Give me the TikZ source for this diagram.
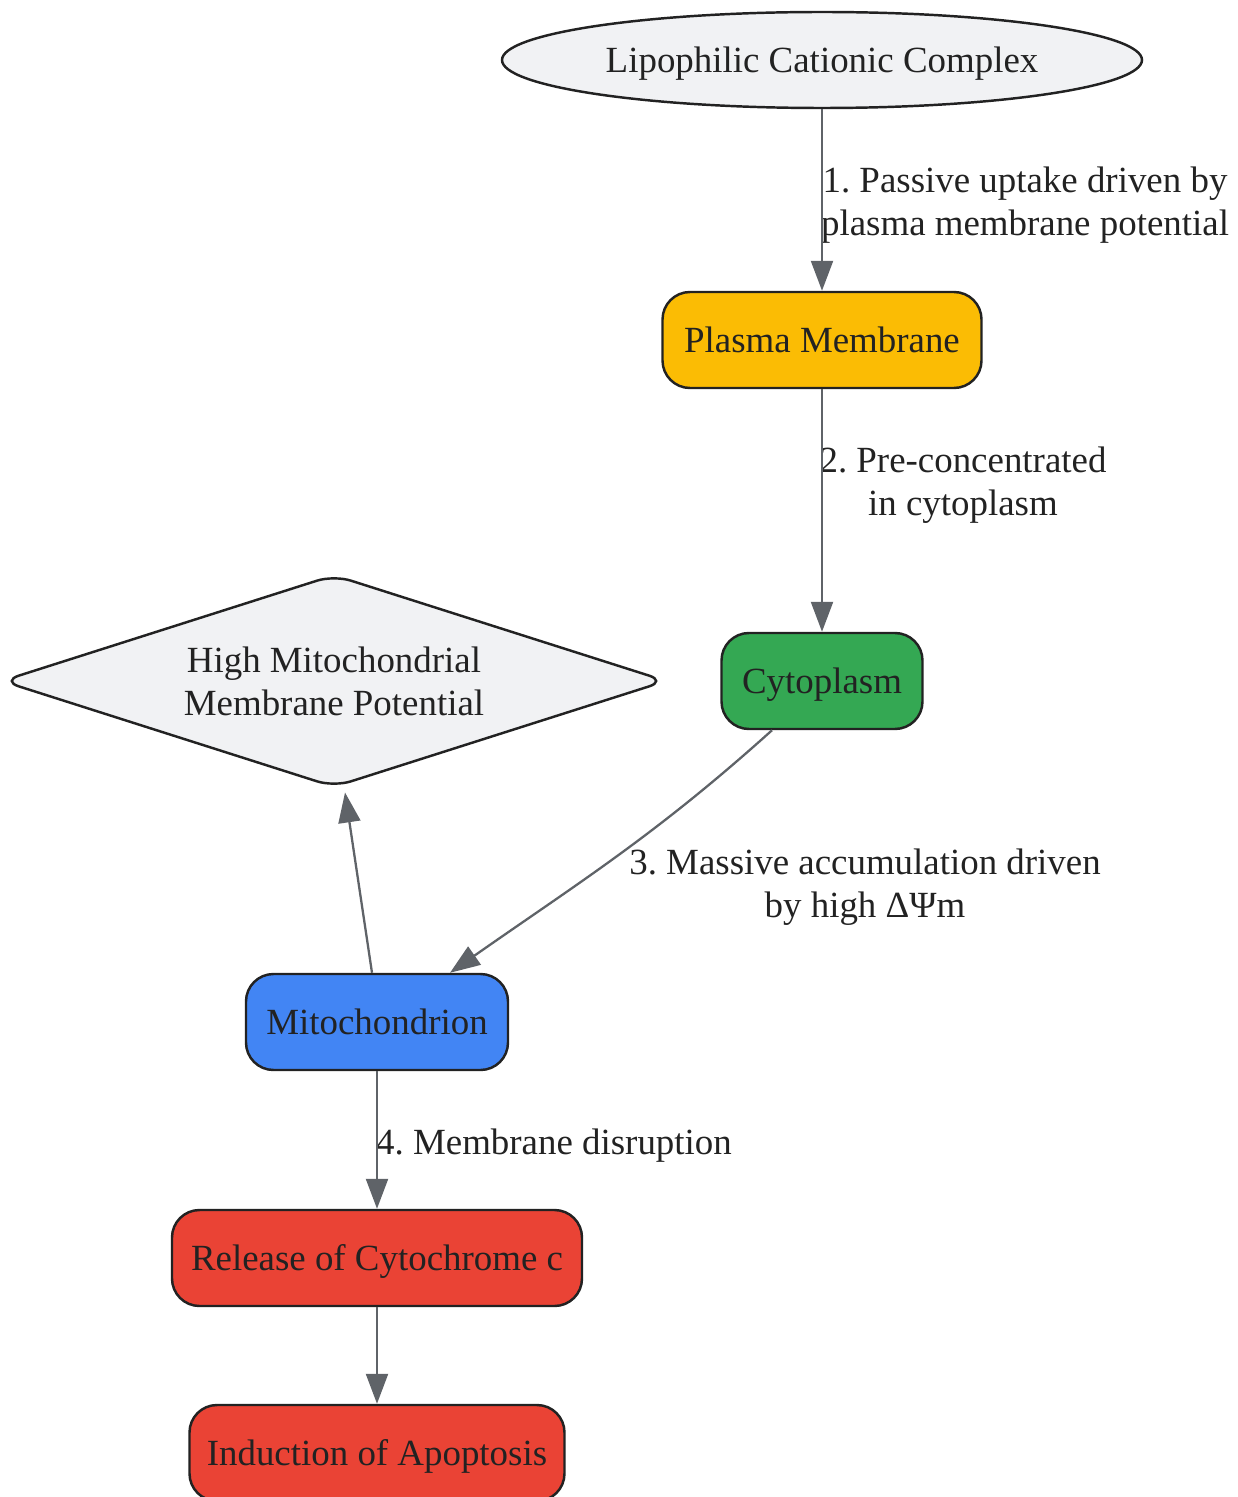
\documentclass[tikz,border=0pt]{standalone}
\usepackage{fontspec}
\setmainfont{Liberation Serif}
\usepackage{xcolor}
\usetikzlibrary{arrows.meta,positioning,shapes.geometric}
\frenchspacing
\definecolor{inkdark}{HTML}{222222}
\definecolor{edgegray}{HTML}{5F6368}
\definecolor{palegray}{HTML}{F1F2F4}
\definecolor{pmyellow}{HTML}{FBBC04}
\definecolor{cytgreen}{HTML}{34A853}
\definecolor{mitblue}{HTML}{4285F4}
\definecolor{apred}{HTML}{EA4335}
\tikzset{%
	process/.style  = {draw=inkdark, line width=1.4pt, rectangle, rounded corners=0.55cm, minimum height=1.92cm, text height=0.66cm, text depth=0.16cm, text=inkdark, font=\fontsize{21}{24.5}\selectfont, text centered},
	terminal/.style = {draw=inkdark, line width=1.4pt, ellipse, fill=palegray, minimum width=12.8cm, minimum height=1.92cm, inner sep=0pt, text height=0.66cm, text depth=0.16cm, text=inkdark, font=\fontsize{21}{24.5}\selectfont},
	decision/.style = {draw=inkdark, line width=1.4pt, diamond, aspect=3.13, rounded corners=10pt, fill=palegray, minimum width=13.3cm, minimum height=4.25cm, inner sep=0pt, text=inkdark, align=center, font=\fontsize{21}{24.5}\selectfont},
	elabel/.style   = {text=inkdark, align=center, font=\fontsize{21}{24.5}\selectfont}, % edge label
	arrow/.style    = {line width=1.3pt, draw=edgegray, -{Triangle[length=0.6cm,width=0.44cm]}},
}
\begin{document}
\begin{tikzpicture}[node distance = 5.6cm]
	\useasboundingbox (0,0) rectangle (24.74,-29.94);
	\node[terminal] (lcc) at (16.44,-1.2) {Lipophilic Cationic Complex};
	\node[process, fill=pmyellow, minimum width=6.38cm, below of=lcc] (pm) {Plasma Membrane};
	\node[process, fill=cytgreen, minimum width=4.02cm, below of=pm, node distance=6.82cm] (cyto) {Cytoplasm};
	\node[decision] (hmmp) at (6.68,-13.62) {High Mitochondrial\\Membrane Potential};
	\node[process, fill=mitblue, minimum width=5.24cm] (mito) at (7.54,-20.44) {Mitochondrion};
	\node[process, fill=apred, minimum width=8.2cm, below of=mito, node distance=4.72cm] (cytc) {Release of Cytochrome c};
	\node[process, fill=apred, minimum width=7.5cm, below of=cytc, node distance=3.9cm] (apop) {Induction of Apoptosis};
	
	\node[elabel] (l1) at (20.5,-4.1) {1. Passive uptake driven by\\plasma membrane potential};
	\node[elabel] (l2) at (19.26,-9.7) {2. Pre-concentrated\\in cytoplasm};
	\node[elabel] (l3) at (17.3,-17.74) {3. Massive accumulation driven\\by high ΔΨm};
	\node[elabel] (l4) at (11.08,-22.92) {4. Membrane disruption};
	
	\draw[arrow] (lcc) -- (pm);
	\draw[arrow] (pm) -- (cyto);
	\draw[arrow] ([xshift=-1cm]cyto.south) to[out=222,in=35] ([xshift=1.46cm]mito.north);
	\draw[arrow] ([xshift=-0.1cm]mito.north) -- ([xshift=0.22cm,yshift=-0.08cm]hmmp.south);
	\draw[arrow] (mito) -- (cytc);
	\draw[arrow] (cytc) -- (apop);
\end{tikzpicture}
\end{document}
